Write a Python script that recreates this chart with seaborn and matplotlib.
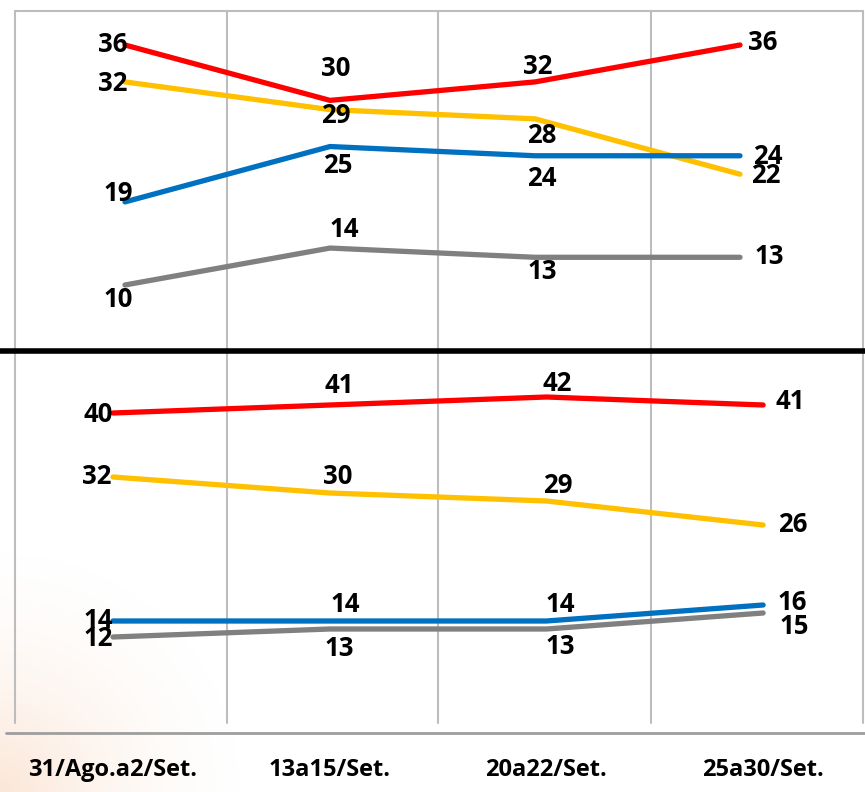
import numpy as np
import pandas as pd
import matplotlib
matplotlib.use("Agg")
import matplotlib.pyplot as plt
import seaborn as sns

sns.set_theme(style="white")
plt.rcParams["font.family"] = ["Open Sans", "DejaVu Sans"]

# ---- data -------------------------------------------------------------
periods = ["31/Ago.a2/Set.", "13a15/Set.", "20a22/Set.", "25a30/Set."]
series = ["A", "B", "C", "D"]
colors = {"A": "#FF0000", "B": "#FFC000", "C": "#0070C0", "D": "#808080"}

upper_a = [36, 30, 32, 36]
upper_b = [32, 29, 28, 22]
upper_c = [19, 25, 24, 24]
upper_d = [10, 14, 13, 13]

lower_a = [40, 41, 42, 41]
lower_b = [32, 30, 29, 26]
lower_c = [14, 14, 14, 16]
lower_d = [12, 13, 13, 15]

upper = pd.DataFrame({"A": upper_a, "B": upper_b, "C": upper_c, "D": upper_d})
lower = pd.DataFrame({"A": lower_a, "B": lower_b, "C": lower_c, "D": lower_d})

# label placement (offset in pixels from the point, horizontal alignment)
upper_lbl = {
    "A": [(3, 0, "right"), (6, -32, "center"), (3, -15, "center"), (8, -2, "left")],
    "B": [(3, 2, "right"), (6, 6, "center"), (7, 17, "center"), (11, 1, "left")],
    "C": [(8, -8, "right"), (8, 19, "center"), (7, 23, "center"), (13, 1, "left")],
    "D": [(8, 15, "right"), (14, -19, "center"), (7, 14, "center"), (15, -1, "left")],
}
lower_lbl = {
    "A": [(0, 2, "right"), (10, -19, "center"), (11, -13, "center"), (12, -3, "left")],
    "B": [(-1, 0, "right"), (8, -16, "center"), (11, -15, "center"), (15, -1, "left")],
    "C": [(0, 0, "right"), (16, -17, "center"), (14, -16, "center"), (14, -3, "left")],
    "D": [(0, 1, "right"), (10, 19, "center"), (14, 17, "center"), (16, 14, "left")],
}

W, H = 865, 792
fig = plt.figure(figsize=(W / 100, H / 100), dpi=100)
fig.patch.set_facecolor("white")


def frac(x0, y0, x1, y1):
    return [x0 / W, 1 - y1 / H, (x1 - x0) / W, (y1 - y0) / H]


# ---- background: glow, grid, frame --------------------------------------
bg = fig.add_axes([0, 0, 1, 1])
bg.set_xlim(0, W)
bg.set_ylim(H, 0)
bg.axis("off")

yy, xx = np.mgrid[0:H, 0:W]
r = np.hypot(xx - 0, yy - H) / 260.0
alpha = np.clip(1 - r, 0, 1) ** 1.8 * 0.38
glow = np.zeros((H, W, 4))
glow[..., 0] = 245 / 255
glow[..., 1] = 190 / 255
glow[..., 2] = 150 / 255
glow[..., 3] = alpha
bg.imshow(glow, extent=(0, W, H, 0), zorder=0, interpolation="bilinear")

grid_c = "#BDBDBD"
for gx in [15, 227, 438, 651, 863]:
    bg.plot([gx, gx], [11, 723], color=grid_c, lw=1.5, zorder=1)
bg.plot([15, 863], [11, 11], color=grid_c, lw=1.5, zorder=1)
bg.plot([6, 865], [733, 733], color="#9E9E9E", lw=2, zorder=1)
bg.plot([0, W], [351, 351], color="black", lw=4, zorder=3, solid_capstyle="butt")


def draw_panel(ax, df, labels):
    long = df.reset_index().melt(id_vars="index", var_name="serie", value_name="v")
    sns.lineplot(data=long, x="index", y="v", hue="serie", palette=colors,
                 hue_order=series, ax=ax, lw=3.8, legend=False,
                 solid_capstyle="round", zorder=4)
    for s in series:
        for i, val in enumerate(df[s]):
            dx, dy, ha = labels[s][i]
            ax.annotate(f"{val}", (i, val), xytext=(dx * 0.72, -dy * 0.72),
                        textcoords="offset points", ha=ha, va="center",
                        fontsize=18.5, fontweight="bold", color="black",
                        zorder=6)
    ax.patch.set_alpha(0)
    for sp in ax.spines.values():
        sp.set_visible(False)
    ax.set_xlabel("")
    ax.set_ylabel("")
    ax.set_yticks([])


# ---- upper panel ------------------------------------------------------
ax_u = fig.add_axes(frac(0, 11, W, 351))
draw_panel(ax_u, upper, upper_lbl)
ax_u.set_xlim(-125 / 205, (W - 125) / 205)
ax_u.set_ylim(36 - (351 - 45) / 9.23, 36 + (45 - 11) / 9.23)
ax_u.set_xticks([])

# ---- lower panel ------------------------------------------------------
ax_l = fig.add_axes(frac(0, 351, W, 733))
draw_panel(ax_l, lower, lower_lbl)
ax_l.set_xlim(-113 / 216.7, (W - 113) / 216.7)
ax_l.set_ylim(0, 40 + (413 - 351) / 8.0)
ax_l.set_xticks(range(len(periods)))
ax_l.set_xticklabels(periods, fontsize=17, fontweight="bold", color="black")
ax_l.tick_params(axis="x", length=0, pad=18)

fig.savefig("out.png", dpi=100)
